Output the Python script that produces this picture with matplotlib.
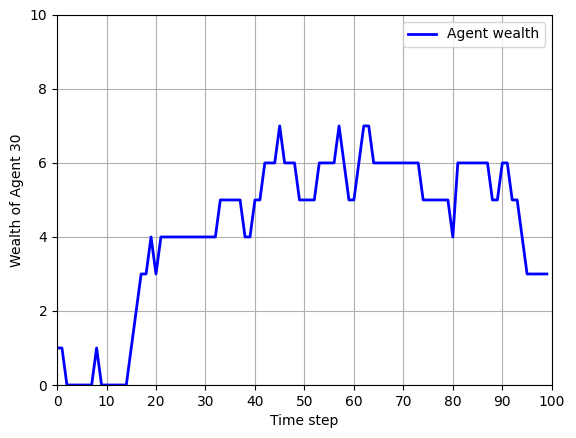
import matplotlib.pyplot as plt
import numpy as np

# wealth of agent 30 at each time step 0..99
wealth = [1, 1, 0, 0, 0, 0, 0, 0, 1, 0,
          0, 0, 0, 0, 0, 1, 2, 3, 3, 4,
          3, 4, 4, 4, 4, 4, 4, 4, 4, 4,
          4, 4, 4, 5, 5, 5, 5, 5, 4, 4,
          5, 5, 6, 6, 6, 7, 6, 6, 6, 5,
          5, 5, 5, 6, 6, 6, 6, 7, 6, 5,
          5, 6, 7, 7, 6, 6, 6, 6, 6, 6,
          6, 6, 6, 6, 5, 5, 5, 5, 5, 5,
          4, 6, 6, 6, 6, 6, 6, 6, 5, 5,
          6, 6, 5, 5, 4, 3, 3, 3, 3, 3]
steps = np.arange(len(wealth))

fig, ax = plt.subplots(figsize=(5.76, 4.38), dpi=100)
fig.subplots_adjust(left=0.099, right=0.958, top=0.966, bottom=0.121)
ax.plot(steps, wealth, color='blue', linewidth=2, label='Agent wealth')
ax.set_xlim(0, 100)
ax.set_ylim(0, 10)
ax.set_xticks(range(0, 101, 10))
ax.set_xlabel('Time step')
ax.set_ylabel('Wealth of Agent 30')
ax.grid(True)
ax.legend(loc='upper right')
plt.savefig('out.png')
